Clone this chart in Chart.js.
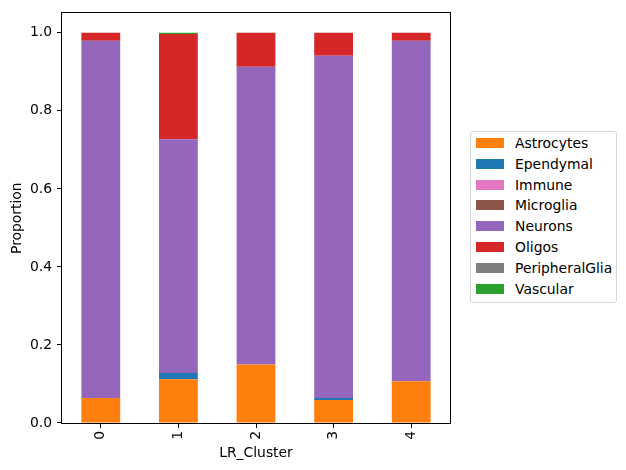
<!DOCTYPE html>
<html>
<head>
<meta charset="utf-8">
<script src="https://cdn.jsdelivr.net/npm/chart.js@4"></script>
<style>
  body { margin: 0; background: #fff; font-family: 'DejaVu Sans', sans-serif; }
  #wrap { position: relative; width: 626px; height: 470px; }
  #legend { position: absolute; left: 470px; top: 131px; width: 145px; height: 170px;
            border: 1px solid #d6d6d6; border-radius: 3px; background: #fff; }
  .row { position: absolute; left: 0; height: 20px; width: 100%; }
  .sw { position: absolute; left: 5px; top: 5px; width: 28px; height: 10px; }
  .lb { position: absolute; left: 44px; top: 0; line-height: 20px; font-size: 13.9px; color: #000; white-space: nowrap; }
</style>
</head>
<body>
<div id="wrap">
  <canvas id="myChart" width="626" height="470"></canvas>
  <div id="legend"></div>
</div>
<script>
const clusters = ['0', '1', '2', '3', '4'];
const cellTypes = ['Astrocytes', 'Ependymal', 'Immune', 'Microglia', 'Neurons', 'Oligos', 'PeripheralGlia', 'Vascular'];
const colors = ['#ff7f0e', '#1f77b4', '#e377c2', '#8c564b', '#9467bd', '#d62728', '#7f7f7f', '#2ca02c'];

const astrocytes = [0.064, 0.112, 0.150, 0.059, 0.107];
const ependymal = [0.000, 0.016, 0.000, 0.005, 0.000];
const immune = [0, 0, 0, 0, 0];
const microglia = [0, 0, 0, 0, 0];
const neurons = [0.916, 0.599, 0.763, 0.877, 0.873];
const oligos = [0.020, 0.270, 0.087, 0.059, 0.020];
const peripheralGlia = [0, 0, 0, 0, 0];
const vascular = [0, 0.003, 0, 0, 0];

const yTicks = [0.0, 0.2, 0.4, 0.6, 0.8, 1.0];

const series = [astrocytes, ependymal, immune, microglia, neurons, oligos, peripheralGlia, vascular];

const datasets = cellTypes.map((name, i) => ({
  label: name,
  data: series[i],
  backgroundColor: colors[i],
  borderWidth: 0,
  barPercentage: 0.5,
  categoryPercentage: 1.0
}));

// frame round the plot area
const frame = {
  id: 'frame',
  afterDraw(chart) {
    const { ctx, chartArea: a } = chart;
    ctx.save();
    ctx.strokeStyle = '#000';
    ctx.lineWidth = 1;
    ctx.strokeRect(Math.round(a.left) - 0.5, Math.round(a.top) - 0.5, Math.round(a.right - a.left) + 1, Math.round(a.bottom - a.top) + 1);
    ctx.restore();
  }
};

const font = { family: 'DejaVu Sans', size: 13.9 };

new Chart(document.getElementById('myChart').getContext('2d'), {
  type: 'bar',
  data: { labels: clusters, datasets: datasets },
  options: {
    responsive: false,
    animation: false,
    devicePixelRatio: 1,
    layout: { padding: { top: 8, right: 176, left: 0, bottom: 0 } },
    plugins: { legend: { display: false }, tooltip: { enabled: false } },
    scales: {
      x: {
        stacked: true,
        afterFit(s) { s.height = 47; },
        border: { display: false },
        grid: { offset: false, drawOnChartArea: false, tickLength: 5, color: '#000', tickWidth: 1 },
        ticks: { color: '#000', font: font, minRotation: 90, maxRotation: 90, padding: 3 },
        title: { display: true, text: 'LR_Cluster', color: '#000', font: font, padding: { top: 8, bottom: 8 } }
      },
      y: {
        stacked: true,
        min: 0,
        max: 1.05,
        afterFit(s) { s.width = 62; },
        afterBuildTicks(s) { s.ticks = yTicks.map(v => ({ value: v })); },
        border: { display: false },
        grid: { drawOnChartArea: false, tickLength: 5, color: '#000', tickWidth: 1 },
        ticks: { color: '#000', font: font, padding: 5, callback: v => v.toFixed(1) },
        title: { display: true, text: 'Proportion', color: '#000', font: font, padding: { top: 9, bottom: 9 } }
      }
    }
  },
  plugins: [frame]
});

const legend = document.getElementById('legend');
cellTypes.forEach((name, i) => {
  const row = document.createElement('div');
  row.className = 'row';
  row.style.top = (1 + i * 20.8) + 'px';
  row.innerHTML = '<div class="sw" style="background:' + colors[i] + '"></div><span class="lb">' + name + '</span>';
  legend.appendChild(row);
});
</script>
</body>
</html>
